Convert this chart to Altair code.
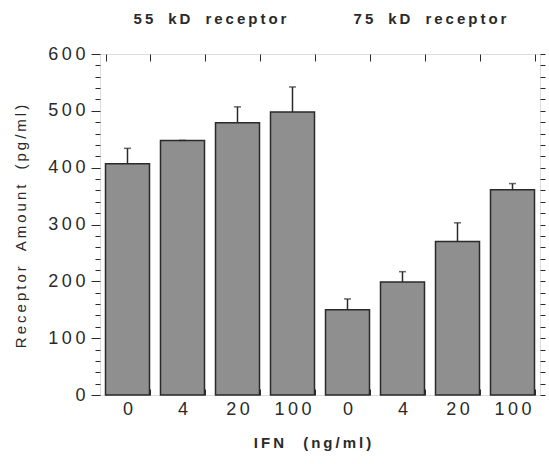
import altair as alt
import pandas as pd

groups = ["55 kD receptor", "75 kD receptor"]
doses = ["0", "4", "20", "100"]
values_55 = [407, 448, 479, 498]
errors_55 = [27, 0, 28, 44]
values_75 = [150, 199, 270, 361]
errors_75 = [19, 18, 33, 11]
y_ticks = list(range(0, 601, 20))

THIN = "\u2009"
EM = "\u2003"


def spaced(s, gap=EM):
    return gap.join(THIN.join(w) for w in s.split(" "))


rows = []
for g, vals, errs in [(groups[0], values_55, errors_55), (groups[1], values_75, errors_75)]:
    for d, v, e in zip(doses, vals, errs):
        rows.append({"cat": f"{g[:2]}-{d}", "group": g, "dose": d, "value": v, "upper": v + e})
df = pd.DataFrame(rows)
order = list(df["cat"])

df_g = pd.DataFrame({"cat": [order[1], order[5]], "label": [spaced(g) for g in groups]})

xscale = alt.Scale(domain=order, paddingInner=0.2, paddingOuter=0.1)
yscale = alt.Scale(domain=[0, 600], nice=False)

INK = "#2a2a2a"

bottom_axis = alt.Axis(
    orient="bottom", offset=-6, tickSize=6, tickBand="extent", domain=False, grid=False,
    labelAngle=0, labelPadding=5, labelFontSize=18, labelColor=INK, tickColor=INK,
    labelExpr=(f"indexof(datum.label + '', '-') >= 0 ? "
               f"join(split(split(datum.label,'-')[1],''),'{THIN}') : ''"),
    title=spaced("IFN (ng/ml)", EM + "\u00a0"), titleFontSize=15, titleFontWeight="bold",
    titleColor=INK, titleX=212, titleY=53, titleBaseline="middle",
)
left_axis = alt.Axis(
    orient="left", values=y_ticks, domain=False, grid=False,
    tickSize={"condition": {"test": "datum.value % 100 === 0", "value": 9}, "value": 5},
    tickColor=INK, labelPadding=6, labelFontSize=18, labelColor=INK, labelOverlap=False,
    labelExpr=f"datum.value % 100 === 0 ? join(split(datum.label,''),'{THIN}') : ''",
    title=spaced("Receptor Amount (pg/ml)"), titleFontSize=15, titleFontWeight="normal",
    titleColor=INK, titleX=-80, titleY=172, titleAngle=-90, titleBaseline="middle",
    titleAlign="center",
)
top_axis = alt.Axis(orient="top", offset=-7, tickSize=7, tickBand="extent", domain=False,
                    grid=False, labels=False, title=None, tickColor=INK)
right_axis = alt.Axis(orient="right", values=y_ticks, domain=False, grid=False, labels=False,
                      title=None, tickSize=5, tickColor=INK)

bars = alt.Chart(df).mark_bar(fill="#8f8f8f", stroke=INK, strokeWidth=1.5).encode(
    x=alt.X("cat:N", scale=xscale, axis=bottom_axis),
    y=alt.Y("value:Q", scale=yscale, axis=left_axis),
)
errs = alt.Chart(df).mark_rule(color=INK, strokeWidth=1.5).encode(
    x=alt.X("cat:N", scale=xscale, axis=top_axis),
    y=alt.Y("value:Q", scale=yscale, axis=right_axis),
    y2="upper:Q",
)
caps = alt.Chart(df).mark_tick(color=INK, thickness=1.5, size=7).encode(
    x=alt.X("cat:N", scale=xscale, axis=None),
    y=alt.Y("upper:Q", scale=yscale, axis=None),
)
text = alt.Chart(df_g).mark_text(fontSize=15, fontWeight="bold", color=INK, baseline="middle",
                                 dx=5.5).encode(
    x=alt.X("cat:N", scale=xscale, axis=None, bandPosition=1),
    y=alt.value(-35),
    text="label:N",
)

chart = (
    alt.layer(bars, errs, caps, text)
    .resolve_axis(x="independent", y="independent")
    .properties(
        width=440, height=341,
        autosize=alt.AutoSizeParams(type="none"),
        padding={"left": 100, "top": 54, "right": 9, "bottom": 69},
        background="white",
    )
    .configure_view(stroke=INK, strokeWidth=1.2)
    .configure(font="Liberation Sans")
)

chart.save("out.html", embed_options={"renderer": "svg", "actions": False})
